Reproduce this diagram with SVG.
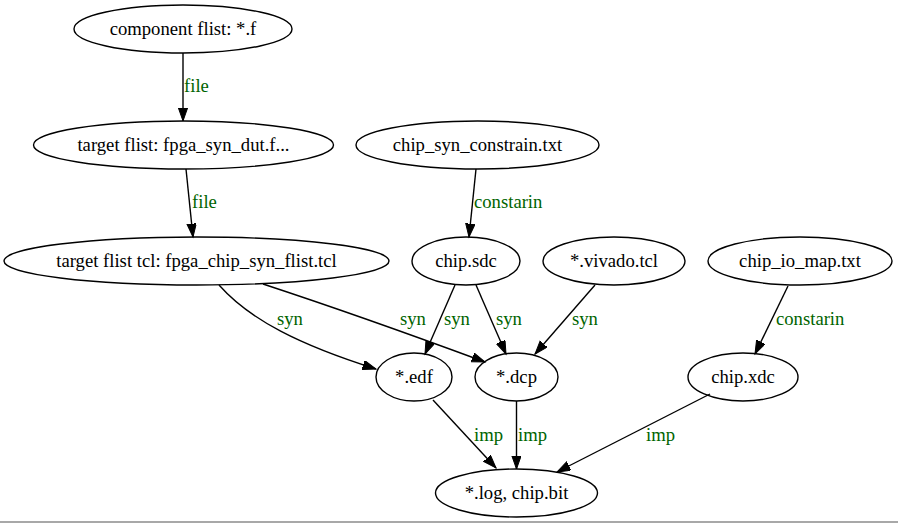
<svg xmlns="http://www.w3.org/2000/svg" width="898" height="523" viewBox="0 0 898 523">
  <style>
    .node ellipse { fill: none; stroke: #000; stroke-width: 1.4; }
    .node text { font-family: "Liberation Serif", "Times New Roman", serif; font-size: 18.67px; fill: #000; text-anchor: middle; }
    .edge path { fill: none; stroke: #000; stroke-width: 1.4; marker-end: url(#arrow); }
    .edge text { font-family: "Liberation Serif", "Times New Roman", serif; font-size: 18.67px; fill: #006400; }
  </style>
  <defs>
    <marker id="arrow" markerUnits="userSpaceOnUse" markerWidth="15" markerHeight="11" refX="13.3" refY="4.7" orient="auto">
      <path d="M0,0 L13.3,4.7 L0,9.4 Z" fill="#000" stroke="#000" stroke-width="1"/>
    </marker>
  </defs>
  <rect width="898" height="523" fill="#fff"/>

  <!-- nodes -->
  <g id="component_flist" class="node">
    <ellipse cx="183" cy="29" rx="109" ry="24"/>
    <text x="183" y="35">component flist: *.f</text>
  </g>
  <g id="target_flist" class="node">
    <ellipse cx="183.5" cy="145" rx="150" ry="24"/>
    <text x="183.5" y="151">target flist: fpga_syn_dut.f...</text>
  </g>
  <g id="chip_syn_constrain" class="node">
    <ellipse cx="477.5" cy="145" rx="121.5" ry="24"/>
    <text x="477.5" y="151">chip_syn_constrain.txt</text>
  </g>
  <g id="target_flist_tcl" class="node">
    <ellipse cx="196.5" cy="261" rx="192.5" ry="24"/>
    <text x="196.5" y="267">target flist tcl: fpga_chip_syn_flist.tcl</text>
  </g>
  <g id="chip_sdc" class="node">
    <ellipse cx="466" cy="261" rx="54" ry="24"/>
    <text x="466" y="267">chip.sdc</text>
  </g>
  <g id="vivado_tcl" class="node">
    <ellipse cx="614" cy="261" rx="71" ry="24"/>
    <text x="614" y="267">*.vivado.tcl</text>
  </g>
  <g id="chip_io_map" class="node">
    <ellipse cx="800" cy="261" rx="92" ry="24"/>
    <text x="800" y="267">chip_io_map.txt</text>
  </g>
  <g id="edf" class="node">
    <ellipse cx="414" cy="377" rx="38" ry="24"/>
    <text x="414" y="383">*.edf</text>
  </g>
  <g id="dcp" class="node">
    <ellipse cx="516.5" cy="377" rx="41.5" ry="24"/>
    <text x="516.5" y="383">*.dcp</text>
  </g>
  <g id="chip_xdc" class="node">
    <ellipse cx="743" cy="377" rx="55" ry="24"/>
    <text x="743" y="383">chip.xdc</text>
  </g>
  <g id="log_bit" class="node">
    <ellipse cx="516.5" cy="493" rx="81" ry="24"/>
    <text x="516.5" y="499">*.log, chip.bit</text>
  </g>

  <!-- connectors -->
  <g id="edges">
    <g class="edge">
      <path d="M183,53 L183,121"/>
      <text x="184" y="92">file</text>
    </g>
    <g class="edge">
      <path d="M186,169 L193,237"/>
      <text x="192" y="208">file</text>
    </g>
    <g class="edge">
      <path d="M476,169 L469,237"/>
      <text x="474" y="208">constarin</text>
    </g>
    <g class="edge">
      <path d="M219,285 C250,320 300,345 376,369"/>
      <text x="277" y="325">syn</text>
    </g>
    <g class="edge">
      <path d="M263,284 C330,306 420,338 485,362"/>
      <text x="400" y="325">syn</text>
    </g>
    <g class="edge">
      <path d="M455,285 L425,354"/>
      <text x="444" y="325">syn</text>
    </g>
    <g class="edge">
      <path d="M476,285 L506,354"/>
      <text x="496" y="325">syn</text>
    </g>
    <g class="edge">
      <path d="M595,285 L535,354"/>
      <text x="572" y="325">syn</text>
    </g>
    <g class="edge">
      <path d="M788,286 L755,354"/>
      <text x="776" y="325">constarin</text>
    </g>
    <g class="edge">
      <path d="M433,400 L496,468"/>
      <text x="474" y="441">imp</text>
    </g>
    <g class="edge">
      <path d="M516.5,401 L516.5,469"/>
      <text x="518" y="441">imp</text>
    </g>
    <g class="edge">
      <path d="M710,394 L557,472"/>
      <text x="646" y="441">imp</text>
    </g>
  </g>

  <!-- bottom rule -->
  <rect x="0" y="521" width="898" height="2" fill="#a8a8a8"/>
</svg>
